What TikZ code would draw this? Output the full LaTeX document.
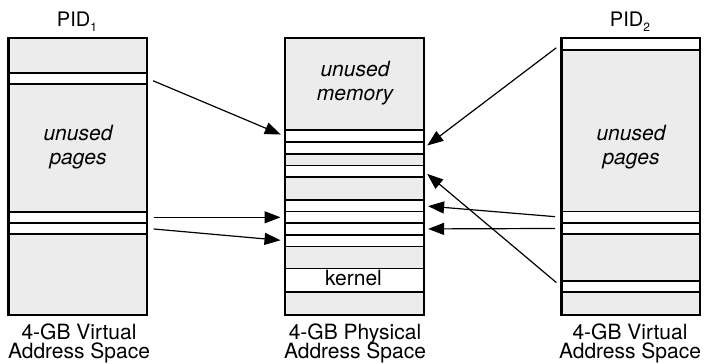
\documentclass[tikz,border=0pt]{standalone}
\usepackage{fontspec}
\setmainfont{TeX Gyre Heros}
\usetikzlibrary{arrows.meta}
\definecolor{pagegray}{RGB}{236,236,236}
\begin{document}
\begin{tikzpicture}[x=1pt,y=-1pt,
  box/.style={draw, line width=1.6pt, fill=pagegray, inner sep=0pt, anchor=north west, minimum width=138pt, minimum height=276.5pt},
  strip/.style={draw, line width=1.6pt, fill=white, inner sep=0pt, anchor=north west, minimum width=138pt},
  arr/.style={line width=1.2pt, -{Triangle[length=16pt,width=12pt]}, shorten >=4pt, shorten <=6pt},
  lbl/.style={font=\fontsize{21}{21}\selectfont, anchor=base, inner sep=0pt},
  ilbl/.style={font=\fontsize{21}{21}\selectfont\itshape, anchor=base, inner sep=0pt},
  pid/.style={font=\fontsize{20}{20}\selectfont, anchor=base, inner sep=0pt},
]
\useasboundingbox (0,0) rectangle (705,364);

% boxes
\node[box] (L) at (8,37.5) {};
\node[box] (M) at (284.5,37.5) {};
\node[box] (R) at (561,37.5) {};

% left strips
\node[strip, minimum height=10.7pt] (l1) at (8,72.3) {};
\node[strip, minimum height=11pt] (l2) at (8,211) {};
\node[strip, minimum height=11.3pt] (l3) at (8,222) {};

% middle strips
\node[strip, minimum height=12pt] (m1) at (284.5,129.3) {};
\node[strip, minimum height=11.7pt] (m2) at (284.5,141.3) {};
\node[strip, minimum height=11.6pt] (m4) at (284.5,164.7) {};
\node[strip, minimum height=11.4pt] (m5) at (284.5,199.3) {};
\node[strip, minimum height=11.6pt] (m6) at (284.5,210.7) {};
\node[strip, minimum height=11.7pt] (m7) at (284.5,222.3) {};
\node[strip, minimum height=11.7pt] (m8) at (284.5,234) {};
\node[strip, minimum height=23.3pt] (mk) at (284.5,267.7) {};
\node[lbl] (ktext) at (353.5,285.7) {kernel};

% right strips
\node[strip, minimum height=11.8pt] (r1) at (561,37.5) {};
\node[strip, minimum height=11.3pt] (r2) at (561,210.7) {};
\node[strip, minimum height=11.3pt] (r3) at (561,222) {};
\node[strip, minimum height=11.3pt] (r4) at (561,280) {};

% box outlines on top
\draw[line width=1.6pt] (L.north west) rectangle (L.south east);
\draw[line width=1.6pt] (M.north west) rectangle (M.south east);
\draw[line width=1.6pt] (R.north west) rectangle (R.south east);

% italic labels
\node[ilbl] (lu1) at (78,140) {unused};
\node[ilbl] (lu2) at (78,164) {pages};
\node[ilbl] (mu1) at (355,76.7) {unused};
\node[ilbl] (mu2) at (355,100) {memory};
\node[ilbl] (ru1) at (631,140) {unused};
\node[ilbl] (ru2) at (631,164) {pages};

% PID labels
\node[pid] (pid1) at (77,26.7) {PID\raisebox{-5pt}{\fontsize{12}{12}\selectfont 1}};
\node[pid] (pid2) at (630,26.7) {PID\raisebox{-5pt}{\fontsize{12}{12}\selectfont 2}};

% bottom labels
\node[lbl] (b1a) at (79,339) {4-GB Virtual};
\node[lbl] (b1b) at (79,358.5) {Address Space};
\node[lbl] (b2a) at (355,339) {4-GB Physical};
\node[lbl] (b2b) at (355,358.5) {Address Space};
\node[lbl] (b3a) at (630,339) {4-GB Virtual};
\node[lbl] (b3b) at (630,358.5) {Address Space};

% arrows
\draw[arr] (l1.east) -- (m1.west);
\draw[arr] (l2.east) -- (m6.west);
\draw[arr] (l3.east) -- (m8.west);
\draw[arr] (r1.west) -- (m2.east);
\draw[arr] (r2.west) -- (m5.east);
\draw[arr] (r3.west) -- (m7.east);
\draw[arr] (r4.west) -- (m4.east);
\end{tikzpicture}
\end{document}
